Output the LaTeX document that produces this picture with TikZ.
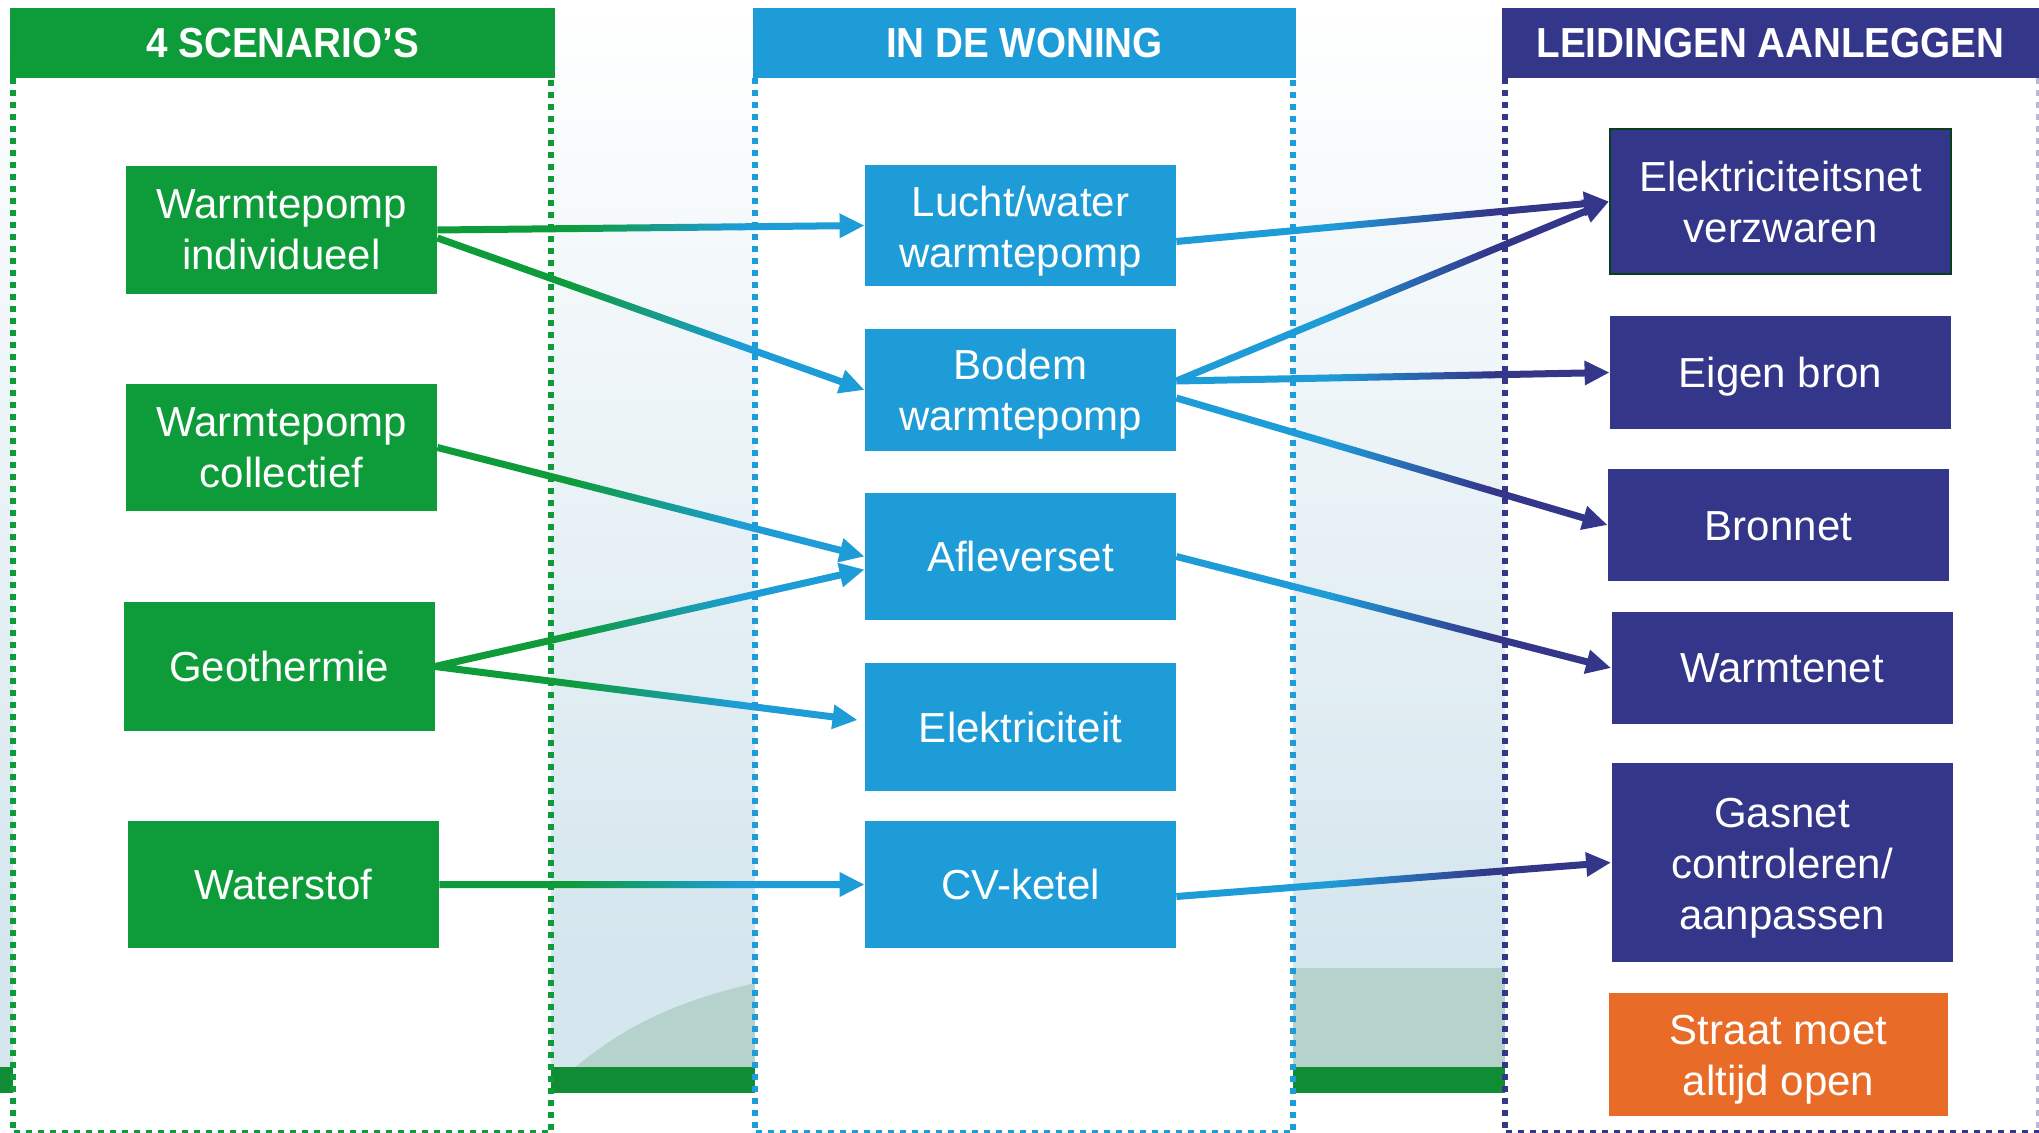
\documentclass[tikz,border=0pt]{standalone}
\usepackage{fontspec}
\setmainfont{Liberation Sans}
\newfontfamily\kopfont[FakeStretch=0.92]{Liberation Sans}
\usepackage{tikz}
\usetikzlibrary{arrows.meta,calc}
\definecolor{groen}{HTML}{0E9C3A}
\definecolor{blauw}{HTML}{1E9CD8}
\definecolor{paars}{HTML}{34368A}
\definecolor{oranje}{HTML}{E86C27}
\definecolor{lucht}{HTML}{D5E6EE}
\definecolor{heuvel}{HTML}{B5D3CC}
\definecolor{gras}{HTML}{108C34}
\definecolor{randgroen}{HTML}{0A3F1E}
\tikzstyle{blok} = [rectangle,inner sep=0pt,text=white,align=center,font=\fontsize{21pt}{25.5pt}\selectfont]
\tikzstyle{scenario} = [blok,fill=groen,minimum width=155.5pt]
\tikzstyle{woning} = [blok,fill=blauw,minimum width=155.5pt]
\tikzstyle{leiding} = [blok,fill=paars,minimum width=170.5pt]
\tikzstyle{kop} = [blok,font=\kopfont\bfseries\fontsize{21pt}{25pt}\selectfont,minimum height=35pt]
\tikzstyle{rand} = [line width=2.8pt,dash pattern=on 3pt off 3pt]
\tikzset{>={Triangle[length=12.5pt,width=11.5pt]}}
% tekst iets lager in het blok zetten
\newcommand\laag[2]{\raisebox{-#1}[\height][\depth]{\begin{tabular}{@{}c@{}}#2\end{tabular}}}

\begin{document}
\begin{tikzpicture}[x=0.5pt,y=-0.5pt]
    \useasboundingbox (0,0) rectangle (2039,1133);
    % achtergrond
    \shade [top color=white,bottom color=lucht] (0,0) rectangle (2039,950);
    \fill [lucht] (0,949) rectangle (2039,1133);
    \fill [heuvel] (545,1095) .. controls (620,1020) and (700,985) .. (850,968) -- (2039,968) -- (2039,1133) -- (545,1133) -- cycle;
    \fill [gras] (0,1067) rectangle (2039,1093);
    \fill [white] (0,1093) rectangle (2039,1133);

    % kolommen
    \fill [white] (13,78) rectangle (551,1140);
    \fill [white] (755,78) rectangle (1293,1140);
    \fill [white] (1505,78) rectangle (2045,1140);
    \draw [rand,groen] (13,78) -- (13,1133) -- (551,1133) -- (551,78);
    \draw [rand,blauw] (755,78) -- (755,1133) -- (1293,1133) -- (1293,78);
    \draw [rand,paars] (1505,78) -- (1505,1133) -- (2039,1133);
    \draw [rand,paars!35] (2039,78) -- (2039,1133);

    \node [kop,fill=groen,minimum width=272.5pt] (kop1) at (282.5,43) {4 SCENARIO’S};
    \node [kop,fill=blauw,minimum width=271.5pt] (kop2) at (1024.5,43) {IN DE WONING};
    \node [kop,fill=paars,minimum width=268.5pt] (kop3) at (1770.5,43) {LEIDINGEN AANLEGGEN};

    % scenario's
    \node [scenario,minimum height=64pt] (wpi) at (281.5,230) {Warmtepomp\\individueel};
    \node [scenario,minimum height=63.5pt] (wpc) at (281.5,447.5) {Warmtepomp\\collectief};
    \node [scenario,minimum height=64.5pt] (geo) at (279,666.5) {Geothermie};
    \node [scenario,minimum height=63.5pt] (wst) at (283.5,884.5) {Waterstof};

    % in de woning
    \node [woning,minimum height=60.5pt] (lw) at (1020.5,225.5) {\laag{3pt}{Lucht/water\\warmtepomp}};
    \node [woning,minimum height=61pt] (bodem) at (1020.5,390) {\laag{2.5pt}{Bodem\\warmtepomp}};
    \node [woning,minimum height=63.5pt] (afl) at (1020.5,556.5) {Afleverset};
    \node [woning,minimum height=64pt] (elek) at (1020.5,727) {Elektriciteit};
    \node [woning,minimum height=63.5pt] (cv) at (1020.5,884.5) {CV-ketel};

    % leidingen
    \node [leiding,draw=randgroen,line width=1pt,minimum height=72.5pt] (elnet) at (1780.5,201.5) {Elektriciteitsnet\\verzwaren};
    \node [leiding,minimum height=56.5pt] (eigen) at (1780.5,372.5) {\laag{2.5pt}{Eigen bron}};
    \node [leiding,minimum height=56pt] (bronnet) at (1778.5,525) {\laag{2.5pt}{Bronnet}};
    \node [leiding,minimum height=56pt] (warmtenet) at (1782,668) {Warmtenet};
    \node [leiding,minimum height=99.5pt] (gasnet) at (1782,862.5) {\laag{3pt}{Gasnet\\controleren/\\aanpassen}};
    \node [blok,fill=oranje,minimum width=169.5pt,minimum height=61.5pt] (straat) at (1778.5,1054.5) {\laag{2.5pt}{Straat moet\\altijd open}};

    \coordinate (wpi2) at ($(wpi.east)+(0,8)$);
    \coordinate (afl2) at ($(afl.west)+(0,13)$);
    \coordinate (elek2) at ($(elek.west)+(-7,-7)$);
    \coordinate (lw2) at ($(lw.east)+(0,16)$);
    \coordinate (bod1) at ($(bodem.east)+(0,-9)$);
    \coordinate (bod2) at ($(bodem.east)+(0,8)$);
    \coordinate (cv2) at ($(cv.east)+(0,12)$);

    % pijlen: scenario -> woning
    \begin{scope}
      \clip foreach \a/\b in {wpi.east/lw.west,wpi2/bodem.west,wpc.east/afl.west,geo.east/afl2,geo.east/elek2,wst.east/cv.west}
        {($(\a)!1.75pt!90:(\b)$) -- ($(\b)!10pt!(\a)!1.75pt!-90:(\a)$) -- ($(\b)!10pt!(\a)!1.75pt!90:(\a)$) -- ($(\a)!1.75pt!-90:(\b)$) -- cycle};
      \fill [groen] (0,0) rectangle (571,1133);
      \shade [left color=groen,right color=blauw] (570,0) rectangle (740,1133);
      \fill [blauw] (739,0) rectangle (1300,1133);
    \end{scope}
    \foreach \a/\b in {wpi.east/lw.west,wpi2/bodem.west,wpc.east/afl.west,geo.east/afl2,geo.east/elek2,wst.east/cv.west}
      \draw [->,line width=3.5pt,blauw] ($(\b)!10pt!(\a)$) -- (\b);

    % pijlen: woning -> leidingen
    \begin{scope}
      \clip foreach \a/\b in {lw2/elnet.west,bod1/elnet.west,bod1/eigen.west,bod2/bronnet.west,afl.east/warmtenet.west,cv2/gasnet.west}
        {($(\a)!1.75pt!90:(\b)$) -- ($(\b)!10pt!(\a)!1.75pt!-90:(\a)$) -- ($(\b)!10pt!(\a)!1.75pt!90:(\a)$) -- ($(\a)!1.75pt!-90:(\b)$) -- cycle};
      \fill [blauw] (1100,0) rectangle (1331,1133);
      \shade [left color=blauw,right color=paars] (1330,0) rectangle (1490,1133);
      \fill [paars] (1489,0) rectangle (1700,1133);
    \end{scope}
    \foreach \a/\b in {lw2/elnet.west,bod1/elnet.west,bod1/eigen.west,bod2/bronnet.west,afl.east/warmtenet.west,cv2/gasnet.west}
      \draw [->,line width=3.5pt,paars] ($(\b)!10pt!(\a)$) -- (\b);
\end{tikzpicture}
\end{document}
